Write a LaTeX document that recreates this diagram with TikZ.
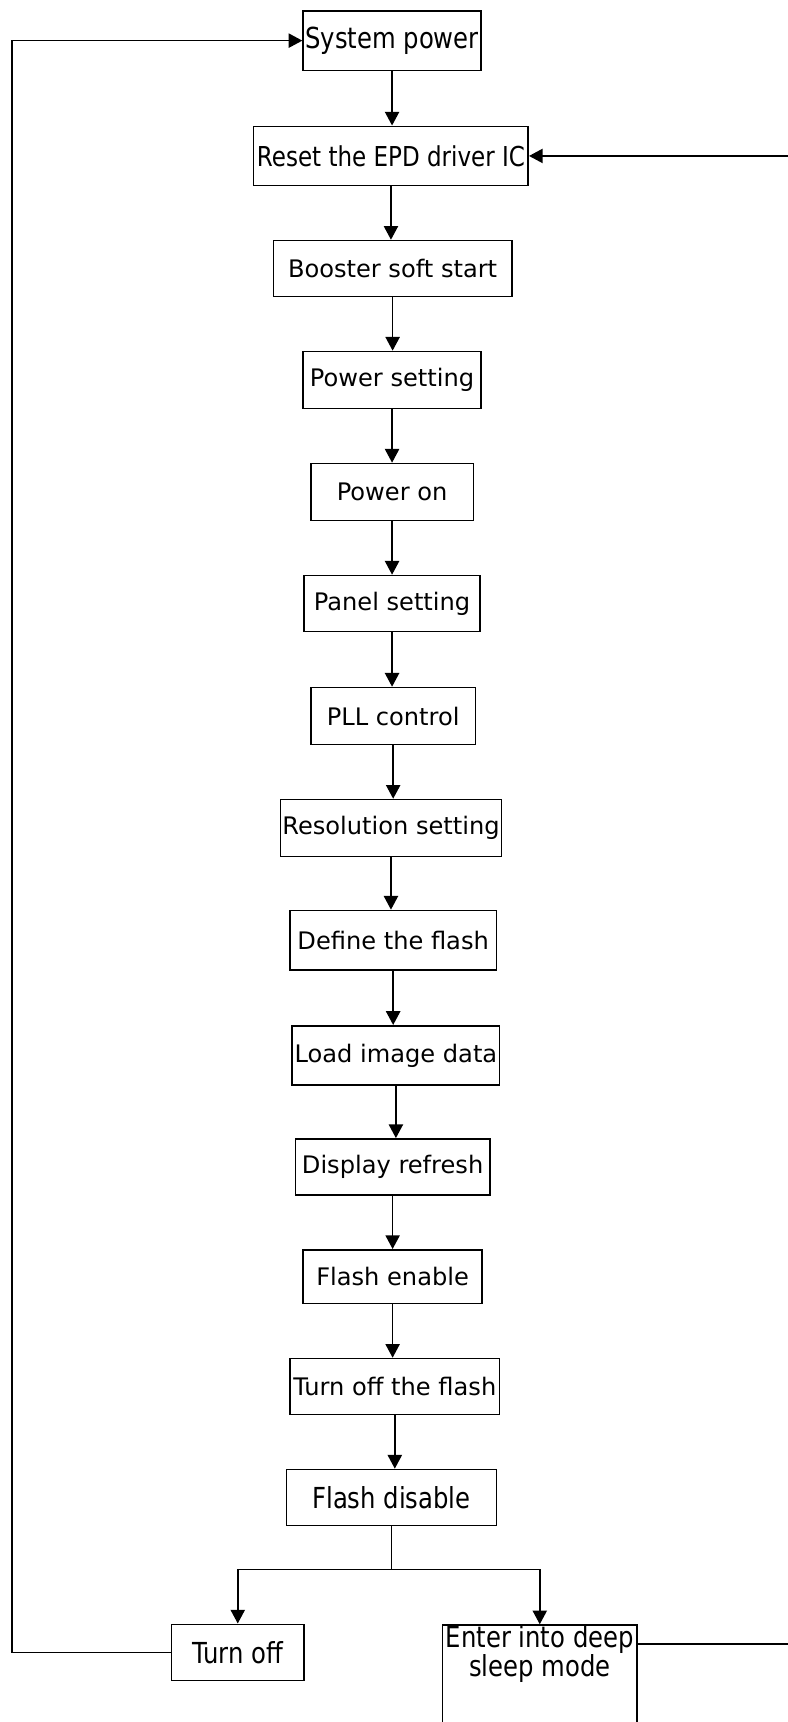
\documentclass[tikz,border=0pt]{standalone}
\usepackage{fontspec}
\setmainfont{DejaVu Sans}
\newfontfamily\narrowfont{DejaVu Sans}[FakeStretch=0.84]
\usetikzlibrary{arrows.meta}

\tikzset{
  box/.style={draw, line width=0.8pt, inner sep=1pt, minimum height=52*0.02cm, font=\fontsize{12.5}{15}\selectfont},
  narrow/.style={font=\narrowfont\fontsize{15}{16.5}\selectfont},
  link/.style={line width=0.8pt}
}

\begin{document}
\begin{tikzpicture}[x=0.02cm, y=-0.02cm, >={Triangle[length=0.25cm,width=0.26cm]}]
\useasboundingbox (0,0) rectangle (717,1568);

% main chain
\node [box,narrow,minimum width=162*0.02cm,minimum height=54*0.02cm] (sys) at (357,37) {System power};
\node [box,narrow,font=\narrowfont\fontsize{14.2}{16}\selectfont,minimum width=250*0.02cm,minimum height=54*0.02cm] (reset) at (356,142) {Reset the EPD driver IC};
\node [box,minimum width=217*0.02cm,minimum height=51*0.02cm] (boost) at (357.5,244.5) {Booster soft start};
\node [box,minimum width=162*0.02cm] (pset) at (357,346) {Power setting};
\node [box,minimum width=148*0.02cm] (pon) at (357,448) {Power on};
\node [box,minimum width=160*0.02cm,minimum height=51*0.02cm] (panel) at (357,549.5) {Panel setting};
\node [box,minimum width=150*0.02cm] (pll) at (358,652) {PLL control};
\node [box,minimum width=198*0.02cm] (res) at (356,754) {Resolution setting};
\node [box,minimum width=188*0.02cm,minimum height=54*0.02cm] (define) at (358,856) {Define the flash};
\node [box,minimum width=189*0.02cm,minimum height=54*0.02cm] (load) at (360.5,961) {Load image data};
\node [box,minimum width=177*0.02cm,minimum height=51*0.02cm] (disp) at (357.5,1062.5) {Display refresh};
\node [box,minimum width=163*0.02cm,minimum height=49*0.02cm] (fen) at (357.5,1162.5) {Flash enable};
\node [box,minimum width=191*0.02cm,minimum height=51*0.02cm] (toff) at (359.5,1262.5) {Turn off the flash};
\node [box,narrow,minimum width=191*0.02cm,minimum height=51*0.02cm] (fdis) at (356.5,1363.5) {Flash disable};

% end states
\node [box,narrow,minimum width=121*0.02cm,minimum height=51*0.02cm] (off) at (216.5,1504.5) {Turn off};
\node [box,narrow,font=\narrowfont\fontsize{15}{13.5}\selectfont,align=center,anchor=north,minimum width=177*0.02cm,inner ysep=0pt,text depth=70*0.02cm] (sleep) at (491.5,1479) {Enter into deep\\sleep mode};

\foreach \a/\b in {sys/reset,reset/boost,boost/pset,pset/pon,pon/panel,panel/pll,pll/res,res/define,define/load,load/disp,disp/fen,fen/toff,toff/fdis}
  \draw [link,->] (\a.south) -- (\a.south |- \b.north);

% branch
\coordinate (split) at (356.5,1429);
\draw [link] (fdis.south) -- (split);
\draw [link,->] (split) -| (off.north);
\draw [link,->] (split) -| (sleep.north);

% loops back
\draw [link,->] (off.west) -- (11,1504.5) |- (sys.west);
\coordinate (sleepout) at (580,1497);
\draw [link,->] (sleepout) -- (722,1497) |- (reset.east);
\end{tikzpicture}
\end{document}
